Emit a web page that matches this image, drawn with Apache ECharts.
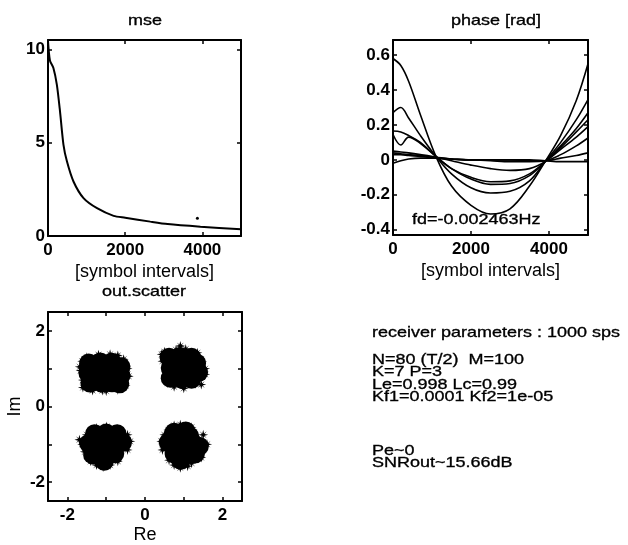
<!DOCTYPE html>
<html><head><meta charset="utf-8">
<script src="https://cdn.jsdelivr.net/npm/echarts@6/dist/echarts.min.js"></script>
<style>html,body{margin:0;padding:0;background:#fff}#c{width:628px;height:545px}</style>
</head><body><div id="c"></div>
<script>
// ---- mse panel ----
const mseX = [0, 50, 140, 230, 310, 400, 490, 660, 920, 1270, 1700, 2000, 2650, 3100, 3950, 5000];
const mseY = [10.45, 9.4, 9.0, 8.1, 6.7, 4.9, 4.0, 2.92, 2.03, 1.49, 1.08, 0.98, 0.77, 0.64, 0.5, 0.36];
const mseStray = [[3870, 0.95]];
const mseXTicks = [0, 2000, 4000];
const mseYTicks = [0, 5, 10];

// ---- phase panel ----
const phX = [0, 200, 400, 700, 1100, 1500, 2000, 2500, 3000, 3500, 3900, 4300, 4700, 5000];
const ph1 = [0.58, 0.54, 0.45, 0.26, 0.02, -0.15, -0.26, -0.31, -0.28, -0.15, -0.01, 0.14, 0.34, 0.55];
const ph2 = [0.27, 0.30, 0.24, 0.14, 0.02, -0.08, -0.16, -0.19, -0.18, -0.12, -0.01, 0.10, 0.23, 0.345];
const ph3 = [0.165, 0.16, 0.14, 0.10, 0.02, -0.05, -0.11, -0.14, -0.135, -0.09, -0.01, 0.08, 0.18, 0.27];
const ph4 = [0.145, 0.085, 0.13, 0.095, 0.02, -0.05, -0.10, -0.125, -0.12, -0.08, -0.01, 0.07, 0.16, 0.23];
const ph5 = [0.05, 0.045, 0.04, 0.03, 0.015, -0.005, -0.03, -0.05, -0.06, -0.05, -0.01, 0.06, 0.13, 0.19];
const ph6 = [0.04, 0.035, 0.03, 0.025, 0.015, 0.005, 0.0, -0.005, -0.01, -0.01, -0.005, 0.03, 0.08, 0.125];
const ph7 = [0.03, 0.03, 0.025, 0.02, 0.01, 0.005, 0.0, 0.0, 0.0, -0.005, -0.005, 0.01, 0.025, 0.04];
const ph8 = [-0.02, -0.005, 0.005, 0.01, 0.01, 0.005, 0.0, 0.0, 0.0, 0.0, -0.005, -0.01, -0.01, -0.01];
const phXTicks = [0, 2000, 4000];
const phYTicks = [-0.4, -0.2, 0, 0.2, 0.4, 0.6];

// ---- scatter panel (cluster cores and ragged edges) ----
const tlCore = [[-1.45,1.15],[-1.15,1.18],[-0.85,1.17],[-0.62,1.05],[-1.47,0.88],[-1.15,0.9],[-0.85,0.9],[-0.62,0.82],[-1.42,0.62],[-1.12,0.62],[-0.85,0.63],[-0.65,0.6],[-1.3,1.02],[-1.0,1.04],[-1.3,0.75],[-1.0,0.76],[-0.75,0.95],[-0.75,0.72]];
const tlEdge = [[-1.68,1.05],[-1.66,0.95],[-1.6,0.5],[-1.35,0.42],[-1.0,0.41],[-0.7,0.44],[-0.42,0.8],[-0.45,1.0],[-0.55,1.25],[-0.9,1.38],[-1.2,1.37],[-1.5,1.3],[-1.62,1.2],[-1.6,0.7],[-0.5,0.55],[-1.1,0.42],[-0.7,1.35]];
const trCore = [[0.62,1.3],[0.9,1.32],[1.2,1.3],[0.65,1.02],[0.92,1.02],[1.2,1.0],[0.65,0.75],[0.95,0.72],[1.2,0.72],[1.38,0.9],[0.78,1.16],[1.06,1.16],[0.78,0.88],[1.06,0.87],[1.33,1.15]];
const trEdge = [[0.43,1.38],[0.91,1.6],[0.8,1.5],[1.05,1.52],[1.35,1.42],[1.55,1.0],[1.55,0.85],[1.45,0.58],[1.0,0.48],[0.58,0.62],[0.45,1.2],[0.5,1.45],[0.75,0.52],[1.3,0.6],[1.47,1.2]];
const blCore = [[-1.3,-0.72],[-1.0,-0.7],[-0.72,-0.72],[-1.45,-0.98],[-1.15,-1.0],[-0.85,-1.0],[-0.58,-0.95],[-1.35,-1.28],[-1.05,-1.3],[-0.78,-1.25],[-1.15,-0.85],[-0.87,-0.85],[-1.2,-1.15],[-0.92,-1.15],[-1.05,-1.45]];
const blEdge = [[-1.69,-0.88],[-1.62,-1.0],[-0.99,-0.53],[-1.25,-0.57],[-0.7,-0.6],[-0.38,-0.92],[-0.45,-1.15],[-0.7,-1.45],[-1.08,-1.6],[-1.4,-1.45],[-1.55,-1.2],[-1.5,-0.75],[-0.45,-0.75],[-0.9,-1.55],[-1.25,-1.55]];
const brCore = [[0.75,-0.68],[1.05,-0.65],[0.6,-0.95],[0.9,-0.95],[1.2,-0.92],[1.4,-1.05],[0.75,-1.25],[1.05,-1.28],[1.3,-1.25],[0.9,-0.8],[1.15,-0.78],[0.9,-1.1],[1.15,-1.1],[0.92,-1.42]];
const brEdge = [[0.91,-0.48],[1.2,-0.55],[0.6,-0.62],[0.42,-0.92],[0.45,-1.15],[0.62,-1.42],[0.91,-1.62],[1.2,-1.5],[1.45,-1.35],[1.6,-1.0],[1.5,-0.75],[0.75,-0.5],[0.5,-0.75],[1.1,-1.58],[0.75,-1.55]];
const scLabelTicks = [-2, 0, 2];
const scTicks = [-2, -1, 0, 1, 2];

// ---- texts ----
const titles = ['mse', 'phase [rad]', 'out.scatter'];
const xNames = ['[symbol intervals]', '[symbol intervals]', 'Re'];
const yNames = ['', '', 'Im'];
const fdText = 'fd=-0.002463Hz';
const paramLines = ['receiver parameters : 1000 sps', 'N=80 (T/2)  M=100', 'K=7 P=3', 'Le=0.998 Lc=0.99', 'Kf1=0.0001 Kf2=1e-05', 'Pe~0', 'SNRout~15.66dB'];

const FONT = '"Liberation Sans", Arial, sans-serif';
const zip = (xs, ys) => xs.map((x, i) => [x, ys[i]]);

function axis(kind, grid, pos, min, max, labelVals, tickVals, name, nameGap, showLabels) {
  return {
    type: 'value', gridIndex: grid, position: pos, min: min, max: max,
    name: name || '', nameLocation: 'middle', nameGap: nameGap || 0,
    nameTextStyle: {color: '#000', fontFamily: FONT, fontSize: 18},
    axisLine: {show: true, onZero: false, lineStyle: {color: '#000', width: 2}},
    axisTick: {show: true, inside: true, length: 4, customValues: tickVals, lineStyle: {color: '#000', width: 1.5}},
    axisLabel: {show: showLabels, customValues: labelVals, formatter: v => String(v), color: '#000', fontFamily: FONT, fontSize: 17, fontWeight: 'bold', margin: kind === 'x' ? 6 : 3},
    splitLine: {show: false}
  };
}

const grids = [
  {left: 48, top: 40, width: 193, height: 196},
  {left: 393, top: 40, width: 195, height: 195},
  {left: 48, top: 312, width: 194, height: 192}
];

const xAxes = [
  axis('x', 0, 'bottom', 0, 5000, mseXTicks, mseXTicks, xNames[0], 27, true),
  axis('x', 0, 'top', 0, 5000, mseXTicks, mseXTicks, '', 0, false),
  axis('x', 1, 'bottom', 0, 5000, phXTicks, phXTicks, xNames[1], 27, true),
  axis('x', 1, 'top', 0, 5000, phXTicks, phXTicks, '', 0, false),
  axis('x', 2, 'bottom', -2.5, 2.5, scLabelTicks, scTicks, xNames[2], 25, true),
  axis('x', 2, 'top', -2.5, 2.5, scLabelTicks, scTicks, '', 0, false)
];
const yAxes = [
  axis('y', 0, 'left', 0, 10.5, mseYTicks, mseYTicks, yNames[0], 0, true),
  axis('y', 0, 'right', 0, 10.5, mseYTicks, mseYTicks, '', 0, false),
  axis('y', 1, 'left', -0.43, 0.686, phYTicks, phYTicks, yNames[1], 0, true),
  axis('y', 1, 'right', -0.43, 0.686, phYTicks, phYTicks, '', 0, false),
  axis('y', 2, 'left', -2.5, 2.5, scLabelTicks, scTicks, yNames[2], 24, true),
  axis('y', 2, 'right', -2.5, 2.5, scLabelTicks, scTicks, '', 0, false)
];

const lineBase = {type: 'line', showSymbol: false, symbol: 'none', animation: false, smooth: 0.35, lineStyle: {color: '#000', width: 1.6}};
const series = [
  Object.assign({}, lineBase, {xAxisIndex: 0, yAxisIndex: 0, smooth: 0.25, data: zip(mseX, mseY), lineStyle: {color: '#000', width: 2}}),
  {type: 'scatter', xAxisIndex: 0, yAxisIndex: 0, data: mseStray, symbolSize: 3, itemStyle: {color: '#000', opacity: 1}, animation: false}
];
[ph1, ph2, ph3, ph4, ph5, ph6, ph7, ph8].forEach(p => {
  series.push(Object.assign({}, lineBase, {xAxisIndex: 2, yAxisIndex: 2, data: zip(phX, p)}));
});
const STAR = 'path://M5,0L5.9,3.6L8.5,1.5L6.4,4.1L10,5L6.4,5.9L8.5,8.5L5.9,6.4L5,10L4.1,6.4L1.5,8.5L3.6,5.9L0,5L3.6,4.1L1.5,1.5L4.1,3.6Z';
[tlCore, trCore, blCore, brCore].forEach(c => {
  series.push({type: 'scatter', xAxisIndex: 4, yAxisIndex: 4, data: c, symbol: 'circle', symbolSize: 19, itemStyle: {color: '#000', opacity: 1, borderWidth: 0}, animation: false});
});
[tlEdge, trEdge, blEdge, brEdge].forEach(c => {
  series.push({type: 'scatter', xAxisIndex: 4, yAxisIndex: 4, data: c, symbol: STAR, symbolSize: 10, itemStyle: {color: '#000', opacity: 1, borderWidth: 0}, animation: false});
});

const txt = (x, y, s, align) => ({type: 'text', x: x, y: y, scaleY: 0.8, silent: true, style: {text: s, fill: '#000', font: '18px ' + FONT, textAlign: align || 'left', textVerticalAlign: 'middle', stroke: '#000', lineWidth: 0.4}});
const graphic = [
  txt(145, 21, titles[0], 'center'),
  txt(496, 21, titles[1], 'center'),
  txt(144, 292, titles[2], 'center'),
  txt(412, 220, fdText, 'left')
];
const pY = [333, 360, 372.5, 385, 397.5, 451, 463.5];
paramLines.forEach((s, i) => graphic.push(txt(372, pY[i], s, 'left')));

const chart = echarts.init(document.getElementById('c'), null, {renderer: 'canvas'});
chart.setOption({
  backgroundColor: '#fff', animation: false,
  grid: grids, xAxis: xAxes, yAxis: yAxes, series: series, graphic: graphic
});
</script></body></html>
